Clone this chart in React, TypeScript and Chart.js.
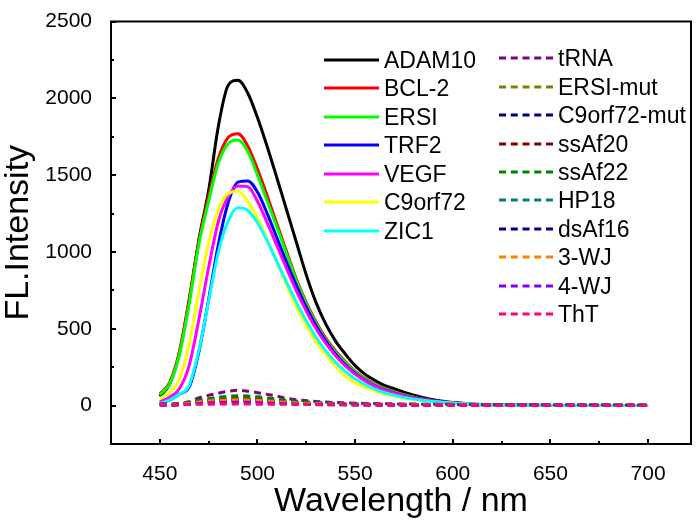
import React, { useEffect, useRef } from "react";
import { Chart, registerables } from "chart.js";

Chart.register(...registerables);

// ---------- data ----------
const wavelengths = [
  450, 455, 460, 465, 470, 475, 480, 485, 490, 495,
  500, 505, 510, 515, 520, 525, 530, 535, 540, 545,
  550, 555, 560, 565, 570, 575, 580, 585, 590, 595,
  600, 610, 620, 630, 640, 650, 660, 670, 680, 690, 700,
];

const adam10 = [60,140,340,680,1080,1400,1820,2085,2117,2035,1875,1685,1480,1270,1060,850,670,530,420,335,260,205,165,132,110,88,68,52,38,28,20,10,5,3,2,1,1,0,0,0,0];
const bcl2 = [75,150,350,690,1070,1360,1610,1745,1770,1690,1540,1365,1180,1000,820,670,545,440,355,285,225,178,142,113,90,71,55,42,32,24,18,9,5,3,1,0,0,0,0,0,0];
const ersi = [70,140,330,660,1050,1330,1580,1705,1729,1655,1500,1330,1160,985,810,660,535,430,345,278,220,173,138,110,88,69,54,41,31,23,17,9,5,3,1,0,0,0,0,0,0];
const trf2 = [15,35,75,120,350,690,1050,1320,1455,1462,1390,1250,1090,930,780,640,520,420,335,265,210,165,130,103,82,65,51,40,31,24,18,9,5,3,1,0,0,0,0,0,0];
const vegf = [25,55,110,260,560,900,1200,1360,1430,1425,1330,1190,1040,890,745,615,500,405,325,258,205,162,128,101,80,63,50,39,30,23,17,9,5,3,1,0,0,0,0,0,0];
const c9orf72 = [45,85,170,400,740,1060,1280,1380,1395,1330,1220,1080,930,780,640,520,415,330,255,190,148,120,96,77,62,50,40,32,25,20,15,8,4,2,1,1,1,1,1,1,1];
const zic1 = [15,35,75,130,360,680,1000,1200,1287,1270,1190,1070,935,800,670,550,445,355,282,222,175,137,107,85,67,53,42,33,26,20,15,8,4,2,1,1,1,1,1,1,1];

const trna = [12,10,14,25,50,67,81,93,100,94,84,73,62,47,38,32,27,23,20,18,16,14,13,12,11,10,10,9,9,8,8,7,7,6,6,5,5,5,5,4,4];
const ersiMut = [8,7,10,18,32,40,46,50,52,50,46,40,34,28,23,19,16,14,12,11,10,9,8,8,7,7,6,6,6,5,5,5,4,4,4,3,3,3,3,3,3];
const c9orf72Mut = [6,6,8,14,24,30,35,38,40,38,35,31,27,22,18,15,13,11,10,9,8,7,7,6,6,6,5,5,5,4,4,4,3,3,3,3,2,2,2,2,2];
const ssAf20 = [7,6,9,15,27,34,39,42,44,42,39,34,29,24,20,16,14,12,10,9,8,8,7,7,6,6,6,5,5,5,4,4,4,3,3,3,3,2,2,2,2];
const ssAf22 = [8,8,12,20,35,45,54,60,64,62,57,50,43,35,29,24,20,17,15,13,12,11,10,9,9,8,8,7,7,7,6,6,5,5,5,4,4,4,4,4,4];
const hp18 = [5,5,7,12,20,25,29,31,32,31,28,25,21,18,15,12,10,9,8,7,6,6,5,5,5,4,4,4,4,3,3,3,3,2,2,2,2,2,2,2,2];
const dsAf16 = [5,4,6,10,17,21,24,26,27,26,24,21,18,15,12,10,9,8,7,6,5,5,5,4,4,4,4,3,3,3,3,3,2,2,2,2,2,2,2,2,2];
const wj3 = [6,5,8,13,24,30,34,37,38,37,34,30,25,21,17,14,12,10,9,8,7,7,6,6,5,5,5,5,4,4,4,4,3,3,3,3,3,2,2,2,2];
const wj4 = [4,4,5,8,14,17,20,21,22,21,19,17,15,12,10,8,7,6,6,5,5,4,4,4,4,3,3,3,3,3,3,2,2,2,2,2,2,1,1,1,1];
const tht = [6,6,7,8,9,9,10,10,10,10,9,9,8,8,7,7,6,6,5,5,5,4,4,4,3,3,3,3,2,2,2,2,1,1,1,1,1,0,0,0,0];

const solidLabels = ["ADAM10", "BCL-2", "ERSI", "TRF2", "VEGF", "C9orf72", "ZIC1"];
const solidColors = ["#000000", "#ff0000", "#00ff00", "#0000ff", "#ff00ff", "#ffff00", "#00ffff"];
const solidValues = [adam10, bcl2, ersi, trf2, vegf, c9orf72, zic1];

const dashedLabels = ["tRNA", "ERSI-mut", "C9orf72-mut", "ssAf20", "ssAf22", "HP18", "dsAf16", "3-WJ", "4-WJ", "ThT"];
const dashedColors = ["#800080", "#808000", "#000080", "#800000", "#008000", "#008080", "#000090", "#ff8000", "#8000ff", "#ff0080"];
const dashedValues = [trna, ersiMut, c9orf72Mut, ssAf20, ssAf22, hp18, dsAf16, wj3, wj4, tht];

const xTicks = [450, 500, 550, 600, 650, 700];
const xMinorTicks = [475, 525, 575, 625, 675];
const yTicks = [0, 500, 1000, 1500, 2000, 2500];
const yMinorTicks = [-250, 250, 750, 1250, 1750, 2250];

// ---------- layout ----------
const W = 700;
const H = 523;
const FONT = "'Liberation Sans', Arial, Helvetica, sans-serif";

const framePlugin = {
  id: "frameTicks",
  afterDraw(chart: any) {
    const { ctx, chartArea } = chart;
    const { left, right, top, bottom } = chartArea;
    const xs = chart.scales.x;
    const ys = chart.scales.y;
    ctx.save();
    ctx.strokeStyle = "#000";
    ctx.lineWidth = 2;
    ctx.strokeRect(left, top, right - left, bottom - top);
    ctx.beginPath();
    xTicks.forEach((v) => {
      const p = Math.round(xs.getPixelForValue(v));
      ctx.moveTo(p, bottom);
      ctx.lineTo(p, bottom - 5);
    });
    xMinorTicks.forEach((v) => {
      const p = Math.round(xs.getPixelForValue(v));
      ctx.moveTo(p, bottom);
      ctx.lineTo(p, bottom - 3);
    });
    yTicks.forEach((v) => {
      const p = Math.round(ys.getPixelForValue(v));
      ctx.moveTo(left, p);
      ctx.lineTo(left + 5, p);
    });
    yMinorTicks.forEach((v) => {
      const p = Math.round(ys.getPixelForValue(v));
      ctx.moveTo(left, p);
      ctx.lineTo(left + 3, p);
    });
    ctx.stroke();
    ctx.restore();
  },
};

function buildDatasets() {
  const sets: any[] = [];
  solidLabels.forEach((label, i) => {
    sets.push({
      label,
      data: wavelengths.map((x, k) => ({ x, y: solidValues[i][k] })),
      borderColor: solidColors[i],
      backgroundColor: solidColors[i],
      borderWidth: 3,
      pointRadius: 0,
      fill: false,
      cubicInterpolationMode: "monotone",
    });
  });
  dashedLabels.forEach((label, i) => {
    sets.push({
      label,
      data: wavelengths.map((x, k) => ({ x, y: dashedValues[i][k] })),
      borderColor: dashedColors[i],
      backgroundColor: dashedColors[i],
      borderWidth: 3,
      borderDash: [7, 5],
      pointRadius: 0,
      fill: false,
      cubicInterpolationMode: "monotone",
    });
  });
  const n = sets.length;
  sets.forEach((s, i) => (s.order = n - i));
  return sets;
}

function LegendRow(props: { x: number; y: number; color: string; dashed: boolean; label: string; len: number }) {
  const { x, y, color, dashed, label, len } = props;
  return (
    <div
      style={{
        position: "absolute",
        left: x,
        top: y - 14,
        height: 28,
        display: "flex",
        alignItems: "center",
        fontFamily: FONT,
        fontSize: 23,
        color: "#000",
        whiteSpace: "nowrap",
        lineHeight: "28px",
      }}
    >
      <svg width={len} height={6} style={{ display: "block" }}>
        <line
          x1={0}
          y1={3}
          x2={len}
          y2={3}
          stroke={color}
          strokeWidth={3}
          strokeDasharray={dashed ? "7 4.75" : undefined}
        />
      </svg>
      <span style={{ marginLeft: 5 }}>{label}</span>
    </div>
  );
}

export default function App() {
  const ref = useRef<HTMLCanvasElement | null>(null);

  useEffect(() => {
    if (!ref.current) return;
    const chart = new Chart(ref.current, {
      type: "line",
      data: { datasets: buildDatasets() },
      plugins: [framePlugin],
      options: {
        responsive: false,
        animation: false,
        devicePixelRatio: 1,
        layout: { padding: { top: 13, right: 9, left: 0, bottom: 0 } },
        plugins: {
          legend: { display: false },
          tooltip: { enabled: false },
        },
        scales: {
          x: {
            type: "linear",
            min: 425,
            max: 722,
            grid: { display: false },
            border: { display: false },
            afterBuildTicks: (s: any) => {
              s.ticks = xTicks.map((v) => ({ value: v }));
            },
            afterFit: (s: any) => {
              s.height = 79;
            },
            ticks: {
              color: "#000",
              font: { family: FONT, size: 21, lineHeight: 1 },
              padding: 12,
              maxRotation: 0,
              autoSkip: false,
              callback: (v: any) => String(v),
            },
            title: {
              display: true,
              text: "Wavelength / nm",
              color: "#000",
              font: { family: FONT, size: 34, lineHeight: 1 },
              padding: { top: 0, bottom: 4 },
            },
          },
          y: {
            type: "linear",
            min: -250,
            max: 2500,
            grid: { display: false },
            border: { display: false },
            afterBuildTicks: (s: any) => {
              s.ticks = yTicks.map((v) => ({ value: v }));
            },
            afterFit: (s: any) => {
              s.width = 111;
            },
            ticks: {
              color: "#000",
              font: { family: FONT, size: 21, lineHeight: 1 },
              padding: 11,
              autoSkip: false,
              callback: (v: any) => String(v),
            },
            title: {
              display: true,
              text: "FL.Intensity",
              color: "#000",
              font: { family: FONT, size: 34, lineHeight: 1 },
              padding: { top: 2, bottom: 0 },
            },
          },
        },
      } as any,
    });
    return () => chart.destroy();
  }, []);

  return (
    <div style={{ position: "fixed", left: 0, top: 0, width: W, height: H, background: "#fff", overflow: "hidden" }}>
      <canvas ref={ref} width={W} height={H} style={{ position: "absolute", left: 0, top: 0, width: W, height: H }} />
      {solidLabels.map((label, i) => (
        <LegendRow key={label} x={324} y={60 + 28.45 * i} color={solidColors[i]} dashed={false} label={label} len={55} />
      ))}
      {dashedLabels.map((label, i) => (
        <LegendRow key={label} x={499} y={58.3 + 28.4 * i} color={dashedColors[i]} dashed={true} label={label} len={54} />
      ))}
    </div>
  );
}
